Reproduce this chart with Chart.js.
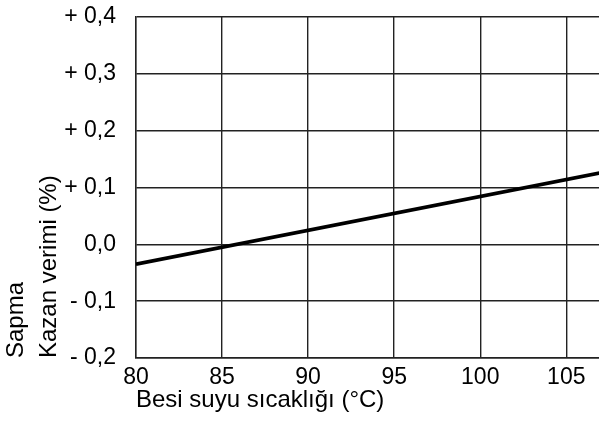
<!DOCTYPE html>
<html>
<head>
<meta charset="utf-8">
<script src="https://cdn.jsdelivr.net/npm/chart.js@4"></script>
<style>
  html, body { margin: 0; padding: 0; background: #fff; }
  #wrap { width: 599px; height: 430px; }
</style>
</head>
<body>
<div id="wrap"><canvas id="myChart" width="599" height="430"></canvas></div>
<script>
// values
const temps = [80, 107];
const deviation = [-0.035, 0.126];
const xTicks = [80, 85, 90, 95, 100, 105];
const yTicks = [-0.2, -0.1, 0, 0.1, 0.2, 0.3, 0.4];

function yLabel(v) {
  const s = Math.abs(v).toFixed(1).replace('.', ',');
  if (Math.abs(v) < 1e-9) return s;
  return (v > 0 ? '+ ' : '- ') + s;
}

const font = { family: 'Liberation Sans', size: 23 };
const titleFont = { family: 'Liberation Sans', size: 24 };
const gridColor = '#222';

new Chart(document.getElementById('myChart'), {
  type: 'scatter',
  data: {
    datasets: [{
      data: temps.map((t, i) => ({ x: t, y: deviation[i] })),
      showLine: true,
      borderColor: '#000',
      borderWidth: 3.8,
      pointRadius: 0,
      fill: false
    }]
  },
  options: {
    responsive: false,
    animation: false,
    layout: { padding: { top: 17, right: 0, bottom: 15, left: 0 } },
    plugins: { legend: { display: false }, tooltip: { enabled: false } },
    scales: {
      x: {
        type: 'linear',
        min: 80,
        max: 106.9,
        afterBuildTicks: s => { s.ticks = xTicks.map(v => ({ value: v })); },
        afterFit: s => { s.height = 57; s.paddingLeft = 0; s.paddingRight = 0; },
        grid: { color: gridColor, lineWidth: 1.4, drawTicks: false },
        border: { color: gridColor, width: 1.4 },
        ticks: { color: '#000', font: font, padding: 6, maxRotation: 0 },
        title: {
          display: true,
          text: 'Besi suyu sıcaklığı (°C)',
          align: 'start',
          color: '#000',
          font: titleFont,
          padding: { top: 0, bottom: 0 }
        }
      },
      y: {
        min: -0.2,
        max: 0.4,
        afterBuildTicks: s => { s.ticks = yTicks.map(v => ({ value: v })); },
        afterFit: s => { s.width = 136; s.paddingTop = 0; s.paddingBottom = 0; },
        grid: { color: gridColor, lineWidth: 1.4, drawTicks: false },
        border: { color: gridColor, width: 1.4 },
        ticks: { color: '#000', font: font, padding: 20, callback: v => yLabel(v) },
        title: {
          display: true,
          text: ['Sapma', 'Kazan verimi (%)'],
          align: 'start',
          color: '#000',
          font: { family: 'Liberation Sans', size: 24, lineHeight: 1.37 },
          padding: { top: 0, bottom: 0 }
        }
      }
    }
  }
});
</script>
</body>
</html>
